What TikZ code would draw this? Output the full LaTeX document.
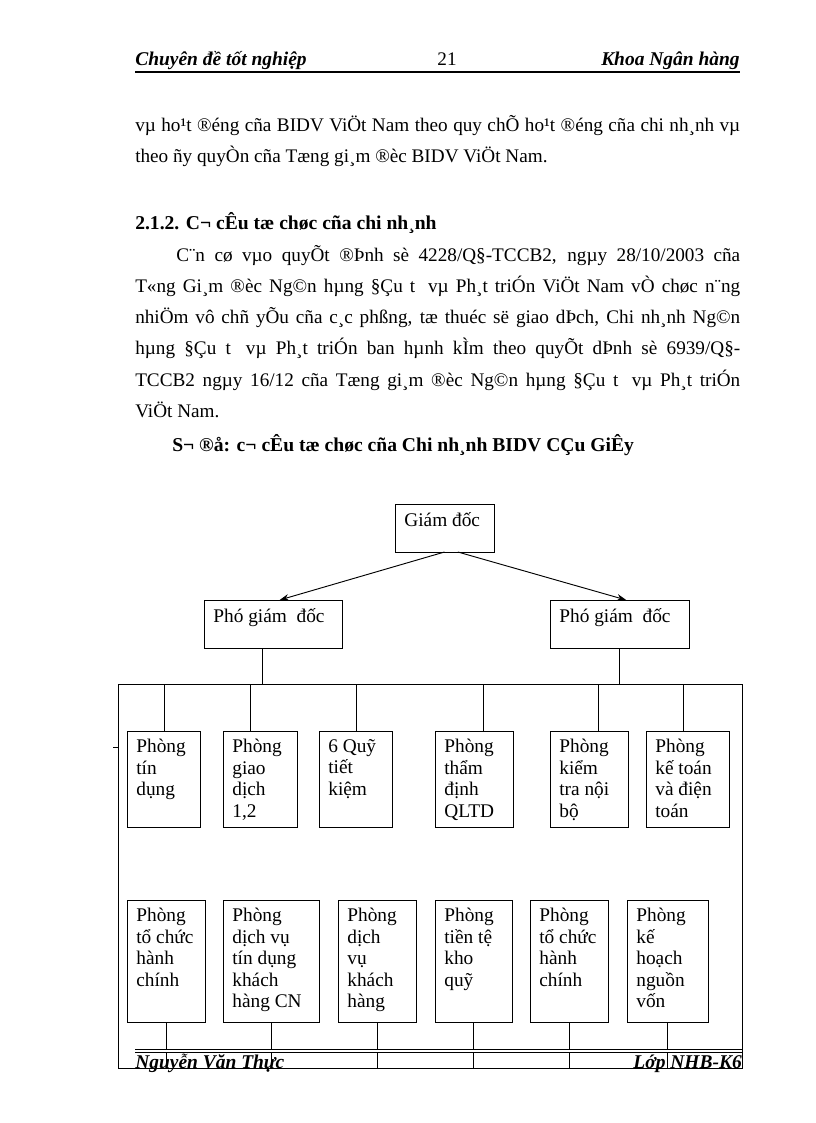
\documentclass[tikz,border=0pt]{standalone}
\usepackage{fontspec}
\setmainfont{Liberation Serif}
\usetikzlibrary{arrows.meta}
\tikzstyle{dept}=[draw, line width=0.7pt, inner xsep=7pt, inner ysep=6pt, outer sep=0pt, anchor=north west, font=\fontsize{14.5}{16.2}\selectfont]
\tikzstyle{link}=[line width=0.7pt]
\tikzstyle{order}=[line width=0.7pt, -{Stealth[length=7pt, width=5pt]}]
\tikzstyle{txt}=[inner sep=0pt, anchor=base west, font=\fontsize{14.4}{16}\selectfont]
\tikzstyle{hdr}=[txt, font=\fontsize{14.6}{16}\selectfont\bfseries\itshape]
\tikzstyle{ttl}=[txt, font=\fontsize{14.7}{16}\selectfont\bfseries]
% box of w x h pixels, text set from its top left corner
\newcommand{\cell}[3]{\parbox[t][\dimexpr#2pt*3/4-12pt\relax][t]{\dimexpr#1pt*3/4-14pt\relax}{\raggedright #3}}

\begin{document}
\begin{tikzpicture}[x=0.75pt, y=-0.75pt]
	\useasboundingbox (0,0) rectangle (816,1123);

	% header
	\node[hdr] (hl) at (135,66) {Chuyên đề tốt nghiệp};
	\node[txt, anchor=base] (hp) at (447,66) {21};
	\node[hdr, anchor=base east] (hr) at (740,66) {Khoa Ngân hàng};
	\coordinate (ul) at (135,72);
	\coordinate (ur) at (740,72);
	\draw[line width=1.5pt] (ul) -- (ur);

	% text
	\node[txt] (b1) at (135,132) {\makebox[453.75pt][s]{vµ ho¹t ®éng cña BIDV ViÖt Nam theo quy chÕ ho¹t ®éng cña chi nh¸nh vµ}};
	\node[txt] (b2) at (135,163) {theo ñy quyÒn cña Tæng gi¸m ®èc BIDV ViÖt Nam.};
	\node[ttl] (sec) at (135,229) {2.1.2. C¬ cÊu tæ chøc cña chi nh¸nh};
	\node[txt] (c1) at (176,261) {\makebox[423pt][s]{C¨n cø vµo quyÕt ®Þnh sè 4228/Q§-TCCB2, ngµy 28/10/2003 cña}};
	\node[txt] (c2) at (135,292) {\makebox[453.75pt][s]{T«ng Gi¸m ®èc Ng©n hµng §Çu t\hspace{0.3em} vµ Ph¸t triÓn ViÖt Nam vÒ chøc n¨ng}};
	\node[txt] (c3) at (135,323) {\makebox[453.75pt][s]{nhiÖm vô chñ yÕu cña c¸c phßng, tæ thuéc së giao dÞch, Chi nh¸nh Ng©n}};
	\node[txt] (c4) at (135,354) {\makebox[453.75pt][s]{hµng §Çu t\hspace{0.3em} vµ Ph¸t triÓn ban hµnh kÌm theo quyÕt dÞnh sè 6939/Q§-}};
	\node[txt] (c5) at (135,386) {\makebox[453.75pt][s]{TCCB2 ngµy 16/12 cña Tæng gi¸m ®èc Ng©n hµng §Çu t\hspace{0.3em} vµ Ph¸t triÓn}};
	\node[txt] (c6) at (135,417) {ViÖt Nam.};
	\node[ttl] (cap) at (172,451) {S¬ ®å: c¬ cÊu tæ chøc cña Chi nh¸nh BIDV CÇu GiÊy};

	% top of the chart
	\node[dept] (gd) at (395,504) {\cell{99}{48}{Giám\ đốc}};
	\node[dept] (pgdl) at (204,600) {\cell{138}{48}{Phó giám\ \ đốc}};
	\node[dept] (pgdr) at (550,600) {\cell{139}{48}{Phó giám\ \ đốc}};
	\draw[order] (gd.south) -- ([xshift=5pt]pgdl.north);
	\draw[order] ([xshift=10pt]gd.south) -- ([xshift=5pt]pgdr.north);

	% frame
	\coordinate (ftl) at (118,684);
	\coordinate (fbr) at (742,1068);
	\draw[link] (ftl) rectangle (fbr);
	\coordinate (dash) at (118,747);
	\draw[link] (dash) -- ++(-5,0);
	\coordinate (al) at ([xshift=-8pt]pgdl.south);
	\coordinate (ar) at (pgdr.south);
	\draw[link] (al) -- (al |- ftl);
	\draw[link] (ar) -- (ar |- ftl);

	% first row
	\node[dept] (p1) at (127,731) {\cell{73}{96}{Phòng\\tín\\dụng}};
	\node[dept] (p2) at (223,731) {\cell{74}{96}{Phòng\\giao\\dịch\\1,2}};
	\node[dept] (p3) at (319,731) {\cell{73}{96}{6 Quỹ\\tiết\\kiệm}};
	\node[dept] (p4) at (435,731) {\cell{78}{96}{Phòng\\thẩm\\định\\QLTD}};
	\node[dept] (p5) at (550,731) {\cell{78}{96}{Phòng\\kiểm\\tra nội\\bộ}};
	\node[dept] (p6) at (646,731) {\cell{83}{96}{Phòng\\kế toán\\và điện\\toán}};
	\foreach \b/\dx in {p1/1, p2/-7, p3/1, p4/7, p5/7, p6/-3} {
		\coordinate (t) at ([xshift=\dx pt]\b.north);
		\draw[link] (t) -- (t |- ftl);
	}

	% second row
	\node[dept] (q1) at (127,900) {\cell{78}{122}{Phòng\\tổ chức\\hành\\chính}};
	\node[dept] (q2) at (223,900) {\cell{96}{122}{Phòng\\dịch vụ\\tín dụng\\khách\\hàng CN}};
	\node[dept] (q3) at (338,900) {\cell{78}{122}{Phòng\\dịch\\vụ\\khách\\hàng}};
	\node[dept] (q4) at (435,900) {\cell{77}{122}{Phòng\\tiền tệ\\kho\\quỹ}};
	\node[dept] (q5) at (530,900) {\cell{78}{122}{Phòng\\tổ chức\\hành\\chính}};
	\node[dept] (q6) at (627,900) {\cell{81}{122}{Phòng\\kế\\hoạch\\nguồn\\vốn}};
	\foreach \b in {q1, q2, q3, q4, q5, q6}
		\draw[link] (\b.south) -- (\b.south |- fbr);

	% footer
	\coordinate (fl) at (135,1051);
	\coordinate (fr) at (742,1051);
	\draw[double, double distance=1.5pt, line width=0.6pt] (fl) -- (fr);
	\node[hdr] (name) at (135,1068) {Nguyễn Văn Thực};
	\node[hdr, anchor=base east] (cls) at (742,1068) {Lớp NHB-K6};
\end{tikzpicture}
\end{document}
